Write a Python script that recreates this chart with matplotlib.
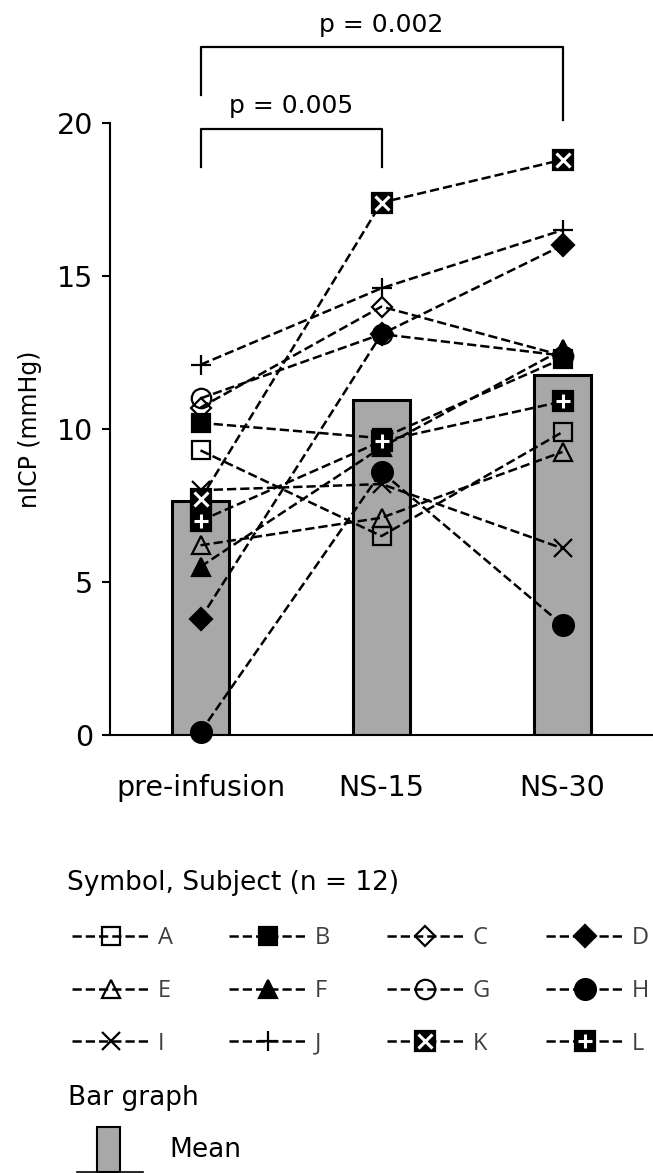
import numpy as np
import matplotlib.pyplot as plt
from matplotlib.lines import Line2D
from matplotlib.patches import Rectangle
from matplotlib.legend_handler import HandlerTuple

plt.rcParams['font.family'] = ['DejaVu Sans']

# data
conditions = ["pre-infusion", "NS-15", "NS-30"]
mean_icp = [7.65, 10.95, 11.75]

subject_names = ["A", "B", "C", "D", "E", "F", "G", "H", "I", "J", "K", "L"]
icp_a = [9.3, 6.5, 9.9]
icp_b = [10.2, 9.7, 12.3]
icp_c = [10.7, 14.0, 12.4]
icp_d = [3.8, 13.1, 16.0]
icp_e = [6.2, 7.1, 9.25]
icp_f = [5.5, 9.4, 12.6]
icp_g = [11.0, 13.1, 12.4]
icp_h = [0.1, 8.6, 3.6]
icp_i = [8.0, 8.2, 6.1]
icp_j = [12.1, 14.6, 16.5]
icp_k = [7.7, 17.4, 18.8]
icp_l = [7.0, 9.6, 10.9]
subject_icp = [icp_a, icp_b, icp_c, icp_d, icp_e, icp_f,
               icp_g, icp_h, icp_i, icp_j, icp_k, icp_l]

p_labels = ["p = 0.005", "p = 0.002"]

# marker styles: (marker, facecolor, size, overlay marker)
styles = {
    "A": ("s", "none", 13, None),
    "B": ("s", "black", 13, None),
    "C": ("D", "none", 10, None),
    "D": ("D", "black", 11, None),
    "E": ("^", "none", 13, None),
    "F": ("^", "black", 13, None),
    "G": ("o", "none", 14, None),
    "H": ("o", "black", 15, None),
    "I": ("x", "none", 13, None),
    "J": ("+", "none", 15, None),
    "K": ("s", "black", 14, "x"),
    "L": ("s", "black", 14, "+"),
}

fig = plt.figure(figsize=(6.53, 11.73), dpi=100)
ax = fig.add_axes([110 / 653, 1 - 735 / 1173, 543 / 653, 612 / 1173])

x = np.arange(len(conditions))
ax.bar(x, mean_icp, width=0.31, color="#a8a8a8", edgecolor="black",
       linewidth=2.2, zorder=1)

handles = {}
for name, vals in zip(subject_names, subject_icp):
    mk, fc, ms, over = styles[name]
    line, = ax.plot(x, vals, linestyle="--", color="black", lw=1.8,
                    marker=mk, markersize=ms, markerfacecolor=fc,
                    markeredgecolor="black", markeredgewidth=1.6,
                    zorder=3, clip_on=False)
    if over is not None:
        top, = ax.plot(x, vals, linestyle="none", marker=over,
                       markersize=ms * 0.7, markeredgecolor="white",
                       markeredgewidth=2.2, zorder=4, clip_on=False)
        handles[name] = (line, top)
    else:
        handles[name] = line

ax.set_xlim(-0.5, 2.5)
ax.set_ylim(0, 20)
ax.set_yticks([0, 5, 10, 15, 20])
ax.set_xticks(x)
ax.set_xticklabels(conditions)
ax.tick_params(axis="x", length=0, pad=28, labelsize=20.5)
ax.tick_params(axis="y", length=6, width=1.5, pad=6, labelsize=20.5)
for side in ["top", "right"]:
    ax.spines[side].set_visible(False)
ax.spines["left"].set_linewidth(1.5)
ax.spines["bottom"].set_linewidth(1.5)
ax.set_ylabel("nICP (mmHg)", fontsize=17)
ax.yaxis.set_label_coords(-0.125, 0.5)

# significance brackets
ax.plot([0, 0, 1, 1], [18.55, 19.8, 19.8, 18.55], color="black", lw=1.6,
        clip_on=False)
ax.text(0.5, 20.15, p_labels[0], ha="center", va="bottom", fontsize=18)
ax.plot([0, 0, 2, 2], [20.9, 22.5, 22.5, 20.1], color="black", lw=1.6,
        clip_on=False)
ax.text(1, 22.8, p_labels[1], ha="center", va="bottom", fontsize=18)

# legend filled row by row: A B C D / E F G H / I J K L
fig.text(67 / 653, 1 - 883 / 1173, "Symbol, Subject (n = 12)",
         ha="left", va="center", fontsize=19)
ncol = 4
order = [subject_names[r * ncol + c] for c in range(ncol) for r in range(3)]
leg = fig.legend([handles[n] for n in order], order, ncol=ncol,
                 loc="upper left", bbox_to_anchor=(72 / 653, 1 - 926 / 1173),
                 frameon=False, labelcolor="#404040",
                 prop={"family": "Open Sans", "size": 17},
                 handlelength=3.3, handletextpad=0.34, columnspacing=2.38,
                 labelspacing=1.22, borderpad=0, borderaxespad=0,
                 handler_map={tuple: HandlerTuple(ndivide=1)})


class BarIconHandler:
    def legend_artist(self, legend, orig_handle, fontsize, handlebox):
        x0, y0 = -handlebox.xdescent, -handlebox.ydescent
        w, h = handlebox.width, handlebox.height
        base = y0 - 0.8 * h
        rect = Rectangle((x0 + 0.30 * w, base), 0.35 * w, 2.4 * h,
                         facecolor="#a8a8a8", edgecolor="black", lw=1.5,
                         transform=handlebox.get_transform())
        floor = Line2D([x0, x0 + w], [base, base], color="black", lw=1.2,
                       transform=handlebox.get_transform())
        handlebox.add_artist(rect)
        handlebox.add_artist(floor)
        return rect


fig.text(68 / 653, 1 - 1098 / 1173, "Bar graph", ha="left", va="center",
         fontsize=19)
bar_leg = fig.legend([Rectangle((0, 0), 1, 1)], ["Mean"], loc="upper left",
                     bbox_to_anchor=(77 / 653, 1 - 1137 / 1173),
                     frameon=False, fontsize=19, handlelength=2.5,
                     handletextpad=1.0, borderpad=0, borderaxespad=0,
                     handler_map={Rectangle: BarIconHandler()})

fig.savefig("out.png", dpi=100)
